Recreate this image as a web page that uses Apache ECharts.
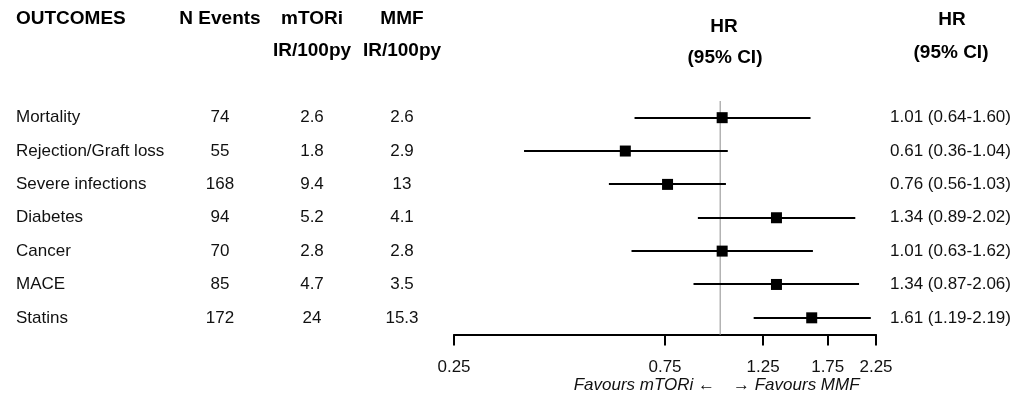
<!DOCTYPE html>
<html>
<head>
<meta charset="utf-8">
<script src="https://cdn.jsdelivr.net/npm/echarts@6/dist/echarts.min.js"></script>
<style>
  html, body { margin: 0; padding: 0; background: #fff; }
  #chart { width: 1031px; height: 396px; }
</style>
</head>
<body>
<div id="chart"></div>
<script>
// Outcomes table and hazard ratios (mTORi vs MMF)
const outcomes = ['Mortality', 'Rejection/Graft loss', 'Severe infections', 'Diabetes', 'Cancer', 'MACE', 'Statins'];
const nEvents = [74, 55, 168, 94, 70, 85, 172];
const irMtori = [2.6, 1.8, 9.4, 5.2, 2.8, 4.7, 24];
const irMmf = [2.6, 2.9, 13, 4.1, 2.8, 3.5, 15.3];
const hr = [1.01, 0.61, 0.76, 1.34, 1.01, 1.34, 1.61];
const ciLow = [0.64, 0.36, 0.56, 0.89, 0.63, 0.87, 1.19];
const ciHigh = [1.60, 1.04, 1.03, 2.02, 1.62, 2.06, 2.19];
const axisTicks = [0.25, 0.75, 1.25, 1.75, 2.25];
const refValue = 1;

const FONT = '"Liberation Sans", Arial, Helvetica, sans-serif';
const TEXT = '#111';

const chart = echarts.init(document.getElementById('chart'), null, { renderer: 'canvas' });

const rows = outcomes.map((_, i) => i + 1);
const ln = Math.log;

// text column: each cell sits at [columnX, row] in the full-width table grid
function textColumn(x, values, align) {
  return {
    type: 'custom',
    xAxisIndex: 1,
    yAxisIndex: 1,
    silent: true,
    data: values.map((v, i) => [x, rows[i]]),
    renderItem: (params, api) => {
      const p = api.coord([api.value(0), api.value(1)]);
      return {
        type: 'text',
        x: p[0],
        y: p[1],
        style: {
          text: String(values[params.dataIndex]),
          fill: TEXT,
          font: '17px ' + FONT,
          align: align,
          verticalAlign: 'middle'
        }
      };
    }
  };
}

const hrText = hr.map((h, i) => h.toFixed(2) + ' (' + ciLow[i].toFixed(2) + '-' + ciHigh[i].toFixed(2) + ')');

function header(text, x, y, align) {
  return {
    type: 'text', x: x, y: y, silent: true,
    style: { text: text, fill: '#000', font: 'bold 19px ' + FONT, align: align, verticalAlign: 'middle' }
  };
}

const option = {
  animation: false,
  backgroundColor: '#fff',
  grid: [
    { left: 454, right: 155, top: 101, height: 233.5 },
    { left: 0, right: 0, top: 101, height: 233.5 }
  ],
  xAxis: [
    {
      gridIndex: 0,
      type: 'value',
      min: ln(axisTicks[0]),
      max: ln(axisTicks[axisTicks.length - 1]),
      axisLine: { show: true, lineStyle: { color: '#000', width: 2 } },
      axisTick: { show: true, length: 11, customValues: axisTicks.map(ln), lineStyle: { color: '#000', width: 2 } },
      axisLabel: {
        customValues: axisTicks.map(ln),
        formatter: v => Math.exp(v).toFixed(2),
        fontFamily: FONT, fontSize: 17, color: TEXT, margin: 24
      },
      splitLine: { show: false }
    },
    { gridIndex: 1, type: 'value', min: 0, max: 1031, show: false }
  ],
  yAxis: [
    { gridIndex: 0, type: 'value', min: 0.5, max: 7.5, inverse: true, show: false },
    { gridIndex: 1, type: 'value', min: 0.5, max: 7.5, inverse: true, show: false }
  ],
  series: [
    // vertical reference line at HR = 1, spanning the plot height
    {
      type: 'custom', xAxisIndex: 0, yAxisIndex: 0, z: 1, silent: true,
      data: [[ln(refValue)]],
      encode: { x: 0 },
      renderItem: (params, api) => {
        const cs = params.coordSys;
        const x = api.coord([api.value(0), 1])[0];
        return {
          type: 'line',
          shape: { x1: x, y1: cs.y, x2: x, y2: cs.y + cs.height },
          style: { stroke: '#b3b3b3', lineWidth: 1.5 }
        };
      }
    },
    // confidence intervals (snapped to whole pixels so every bar is equally crisp)
    {
      type: 'custom', xAxisIndex: 0, yAxisIndex: 0, z: 3, silent: true,
      data: rows.map((r, i) => [ln(ciLow[i]), ln(ciHigh[i]), r]),
      encode: { x: [0, 1], y: 2 },
      renderItem: (params, api) => {
        const a = api.coord([api.value(0), api.value(2)]);
        const b = api.coord([api.value(1), api.value(2)]);
        const y = Math.round(a[1]);
        return {
          type: 'line',
          shape: { x1: a[0], y1: y, x2: b[0], y2: y },
          style: { stroke: '#000', lineWidth: 2 }
        };
      }
    },
    // point estimates
    {
      type: 'scatter', xAxisIndex: 0, yAxisIndex: 0, z: 4, silent: true,
      symbol: 'rect', symbolSize: 11,
      itemStyle: { color: '#000', opacity: 1 },
      data: rows.map((r, i) => [ln(hr[i]), r])
    },
    textColumn(16, outcomes, 'left'),
    textColumn(220, nEvents, 'center'),
    textColumn(312, irMtori, 'center'),
    textColumn(402, irMmf, 'center'),
    textColumn(890, hrText, 'left')
  ],
  graphic: [
    header('OUTCOMES', 16, 19, 'left'),
    header('N Events', 220, 19, 'center'),
    header('mTORi', 312, 19, 'center'),
    header('IR/100py', 312, 51, 'center'),
    header('MMF', 402, 19, 'center'),
    header('IR/100py', 402, 51, 'center'),
    header('HR', 724, 27, 'center'),
    header('(95% CI)', 725, 58, 'center'),
    header('HR', 952, 20, 'center'),
    header('(95% CI)', 951, 53, 'center'),
    {
      type: 'text', x: 715, y: 385, silent: true,
      style: { text: 'Favours mTORi \u2190', fill: TEXT, font: 'italic 17px ' + FONT, align: 'right', verticalAlign: 'middle' }
    },
    {
      type: 'text', x: 733, y: 385, silent: true,
      style: { text: '\u2192 Favours MMF', fill: TEXT, font: 'italic 17px ' + FONT, align: 'left', verticalAlign: 'middle' }
    }
  ]
};

chart.setOption(option);
</script>
</body>
</html>
